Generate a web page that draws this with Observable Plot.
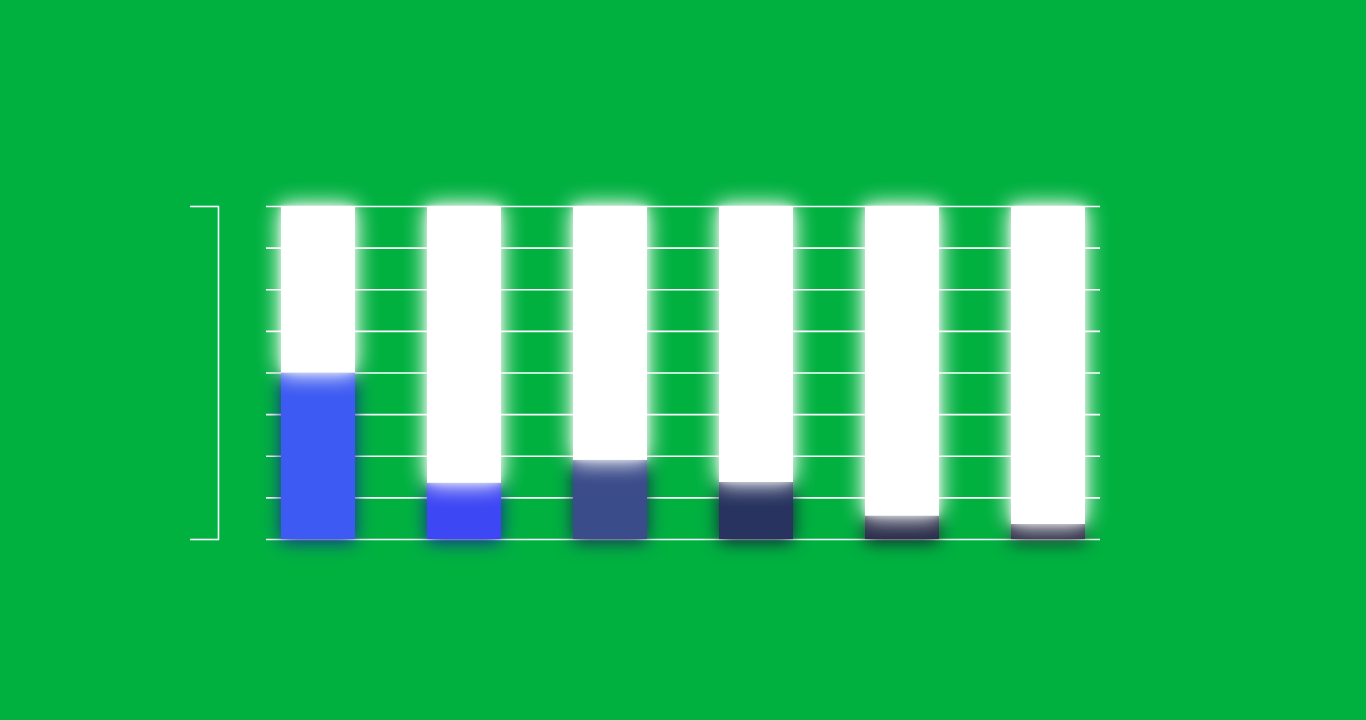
<!DOCTYPE html>
<html>
<head>
<meta charset="utf-8">
<script src="https://cdn.jsdelivr.net/npm/d3@7"></script>
<script src="https://cdn.jsdelivr.net/npm/@observablehq/plot@0.6"></script>
<style>
  html, body { margin: 0; padding: 0; background: #00b140; overflow: hidden; }
  #chart { width: 1366px; height: 720px; }
</style>
</head>
<body>
<div id="chart"></div>
<script>
// Data
const categories = ["A", "B", "C", "D", "E", "F"];
const values = [20, 6.75, 9.5, 6.85, 2.8, 1.8];
const maxValue = 40;
const gridTicks = [0, 5, 10, 15, 20, 25, 30, 35, 40];
const bracketTicks = [0, 40];
const barColors = ["#3d5bf2", "#3e47f4", "#3b4c8a", "#28335f", "#2c2f4b", "#2c2d45"];
const shadowColors = ["#1a2a9a", "#1a24a0", "#1c2a5a", "#141c3c", "#181a30", "#181a2e"];

const data = categories.map((c, i) => ({
  cat: c, value: values[i], color: barColors[i], shadow: shadowColors[i], max: maxValue
}));

const plot = Plot.plot({
  width: 1366,
  height: 720,
  marginTop: 206,
  marginBottom: 181,
  marginLeft: 266,
  marginRight: 266,
  style: { background: "transparent", overflow: "visible" },
  x: { domain: categories, paddingInner: 0.4932, paddingOuter: 0.1027, axis: null },
  y: { domain: [0, maxValue], axis: null },
  marks: [
    Plot.ruleY(gridTicks, { stroke: "white", strokeWidth: 1.6 }),
    Plot.frame({ anchor: "left", stroke: "white", strokeWidth: 1.6, dx: -48 }),
    Plot.axisY(bracketTicks, { tickSize: 28, dx: -48, stroke: "white", strokeWidth: 1.6, tickFormat: () => "", strokeOpacity: 1 }),
    Plot.barY(data, { x: "cat", y1: 0, y2: "value", fill: "color" }),
    Plot.barY(data, { x: "cat", y1: "value", y2: "max", fill: "white" })
  ]
});

document.getElementById("chart").appendChild(plot);

// glow effects
const bars = d3.select(plot).selectAll('g[aria-label="bar"]');
const colored = d3.select(bars.nodes()[0]);
const whites = d3.select(bars.nodes()[1]);
colored.selectAll("rect").each(function (d, j) {
  const i = typeof d === "number" ? d : j;
  d3.select(this).style("filter", `drop-shadow(0 3px 9px ${data[i].shadow})`);
});
whites.selectAll("rect").style("filter", "drop-shadow(0 0 11px rgba(255,255,255,0.85)) drop-shadow(0 0 3px rgba(255,255,255,0.7))");
</script>
</body>
</html>
